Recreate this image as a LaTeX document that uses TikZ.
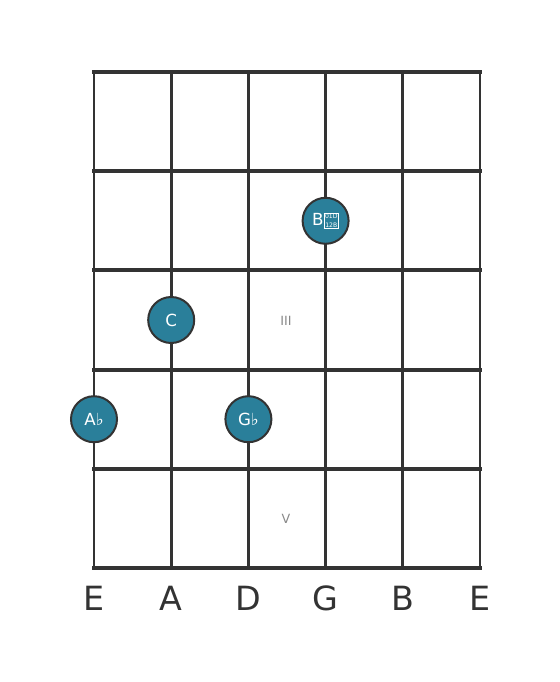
\documentclass[tikz,border=0pt]{standalone}
\usepackage{fontspec}
\setmainfont{DejaVu Sans}
\usetikzlibrary{positioning}
\definecolor{fretgray}{HTML}{333333}
\definecolor{noteteal}{HTML}{2A7F9A}
\definecolor{markgray}{HTML}{888888}
\newcommand{\dflatbox}{{\setlength{\fboxsep}{0.6pt}\setlength{\fboxrule}{0.5pt}\raisebox{-1.5pt}{\fbox{\fontsize{4.6}{5.4}\selectfont\shortstack{01D\\12B}}}}}
\tikzset{
  x=0.75pt, y=-0.75pt,
  note/.style={circle, draw=fretgray, line width=1.5pt, fill=noteteal,
    minimum size=34.5pt, inner sep=0pt, text=white,
    font=\fontsize{12.5}{12.5}\selectfont},
  fretmark/.style={text=markgray, font=\fontsize{9.5}{9.5}\selectfont},
  strname/.style={text=fretgray, font=\fontsize{25}{25}\selectfont},
  fretline/.style={draw=fretgray, line width=3pt, line cap=rect},
  stringline/.style={draw=fretgray, line width=2.2pt}
}
\begin{document}
\begin{tikzpicture}
  \useasboundingbox (0,0) rectangle (560,682);
  % strings and frets
  \foreach \i in {0,...,5}
    \draw[stringline] (94+77.2*\i,72) -- (94+77.2*\i,568);
  \foreach \j in {0,...,5}
    \draw[fretline] (94,72+99.2*\j) -- (480,72+99.2*\j);
  % fret markers
  \node[fretmark] (m3) at (286,321) {III};
  \node[fretmark] (m5) at (286,519) {V};
  % notes
  \node[note] (bdd) at (325.6,220.8) {B\dflatbox};
  \node[note] (c)   at (171.2,320) {C};
  \node[note] (ab)  at (94,419.2)  {A♭};
  \node[note] (gb)  at (248.4,419.2) {G♭};
  % string names
  \foreach \s/\n [count=\k from 0] in {E/e1,A/a,D/d,G/g,B/b,E/e2}
    \node[strname] (\n) at (94+77.2*\k,598) {\s};
\end{tikzpicture}
\end{document}
